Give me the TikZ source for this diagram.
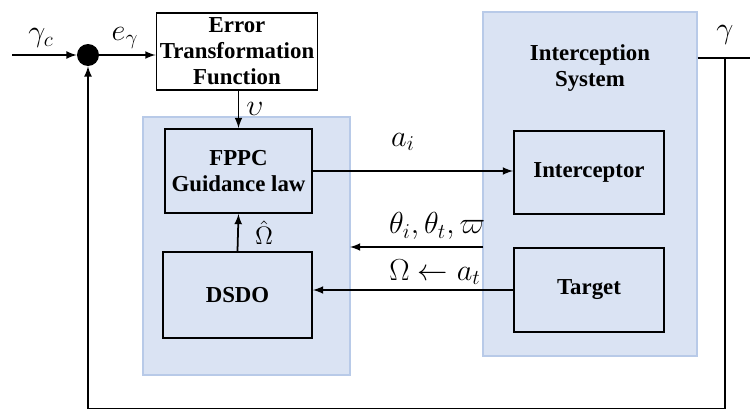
\documentclass[tikz,border=0pt]{standalone}
\usepackage{amsmath}
\usepackage{fontspec}
\setmainfont{Liberation Serif}
\usetikzlibrary{arrows, positioning}
\definecolor{regionblue}{RGB}{218,227,243}
\definecolor{regionedge}{RGB}{184,202,232}
\tikzset{
	blockbox/.style={draw, line width=1.1pt, fill=regionblue, align=center, inner sep=0pt,
		font=\fontsize{13}{14.8}\selectfont\bfseries},
	regionbox/.style={draw=regionedge, line width=0.6pt, fill=regionblue, inner sep=0pt},
	sig/.style={line width=1pt},
	siglabel/.style={font=\LARGE, inner sep=0pt}
}

\begin{document}
\begin{tikzpicture}
		\useasboundingbox (0,0) rectangle (15,8.16);
		% shaded regions
		\node[regionbox, minimum width=4.14cm, minimum height=5.16cm] (ctrl) at (4.93,3.24) {};
		\node[regionbox, minimum width=4.28cm, minimum height=6.88cm] (plant) at (11.8,4.48) {};
		\node[font=\fontsize{13}{14.8}\selectfont\bfseries, align=center] (plantname) at (11.8,6.8) {Interception\\System};

		% blocks
		\draw (4.74,7.13) node[blockbox, minimum width=3.22cm, minimum height=1.54cm, fill=white] (etf) {Error\\Transformation\\Function}
		(4.77,4.74) node[blockbox, minimum width=2.94cm, minimum height=1.68cm] (fppc) {FPPC\\Guidance law}
		(4.75,2.26) node[blockbox, minimum width=2.98cm, minimum height=1.72cm] (dsdo) {DSDO}
		(11.78,4.71) node[blockbox, minimum width=3.0cm, minimum height=1.66cm] (icpt) {Interceptor}
		(11.78,2.36) node[blockbox, minimum width=3.0cm, minimum height=1.68cm] (tgt) {Target};

		% summing junction
		\node[circle, fill=black, minimum size=0.44cm, inner sep=0pt] (sum) at (1.76,7.06) {};
		\coordinate (ref) at (0.24,7.06);
		\coordinate (out) at (15,7.0);
		\coordinate (tap) at (14.5,7.0);
		\coordinate (fbr) at (14.5,-0.02);
		\coordinate (fbl) at (1.76,-0.02);
		\coordinate (thR) at (9.66,3.22);
		\coordinate (thL) at (7.0,3.22);

		\draw[sig, -latex] (ref) -- (sum);
		\draw[sig, -latex] (sum) -- (etf.west |- sum);
		\draw[sig, -latex] (etf.south -| fppc.north) -- (fppc.north);
		\draw[sig, -latex] (dsdo.north) -- (fppc.south);
		\draw[sig, -latex] (fppc.east) -- (icpt.west |- fppc.east);
		\draw[sig, -latex] (thR) -- (thL);
		\draw[sig, -latex] (tgt.west) -- (dsdo.east |- tgt.west);
		\draw[sig] (plant.east |- out) -- (out);
		\draw[sig, -latex] (tap) -- (fbr) -- (fbl) -- (sum);

		% signal labels
		\node[siglabel] (lgc) at (0.82,7.4) {$\gamma_c$};
		\node[siglabel] (le) at (2.5,7.4) {$e_\gamma$};
		\node[siglabel] (lups) at (5.1,5.98) {$\upsilon$};
		\node[siglabel, font=\Large] (lom) at (5.28,3.5) {$\hat{\Omega}$};
		\node[siglabel] (lai) at (8.06,5.32) {$a_i$};
		\node[siglabel] (lth) at (8.74,3.64) {$\theta_i,\theta_t,\varpi$};
		\node[siglabel] (lat) at (8.7,2.72) {$\Omega \leftarrow a_t$};
		\node[siglabel] (lgam) at (14.5,7.46) {$\gamma$};
	\end{tikzpicture}
\end{document}
